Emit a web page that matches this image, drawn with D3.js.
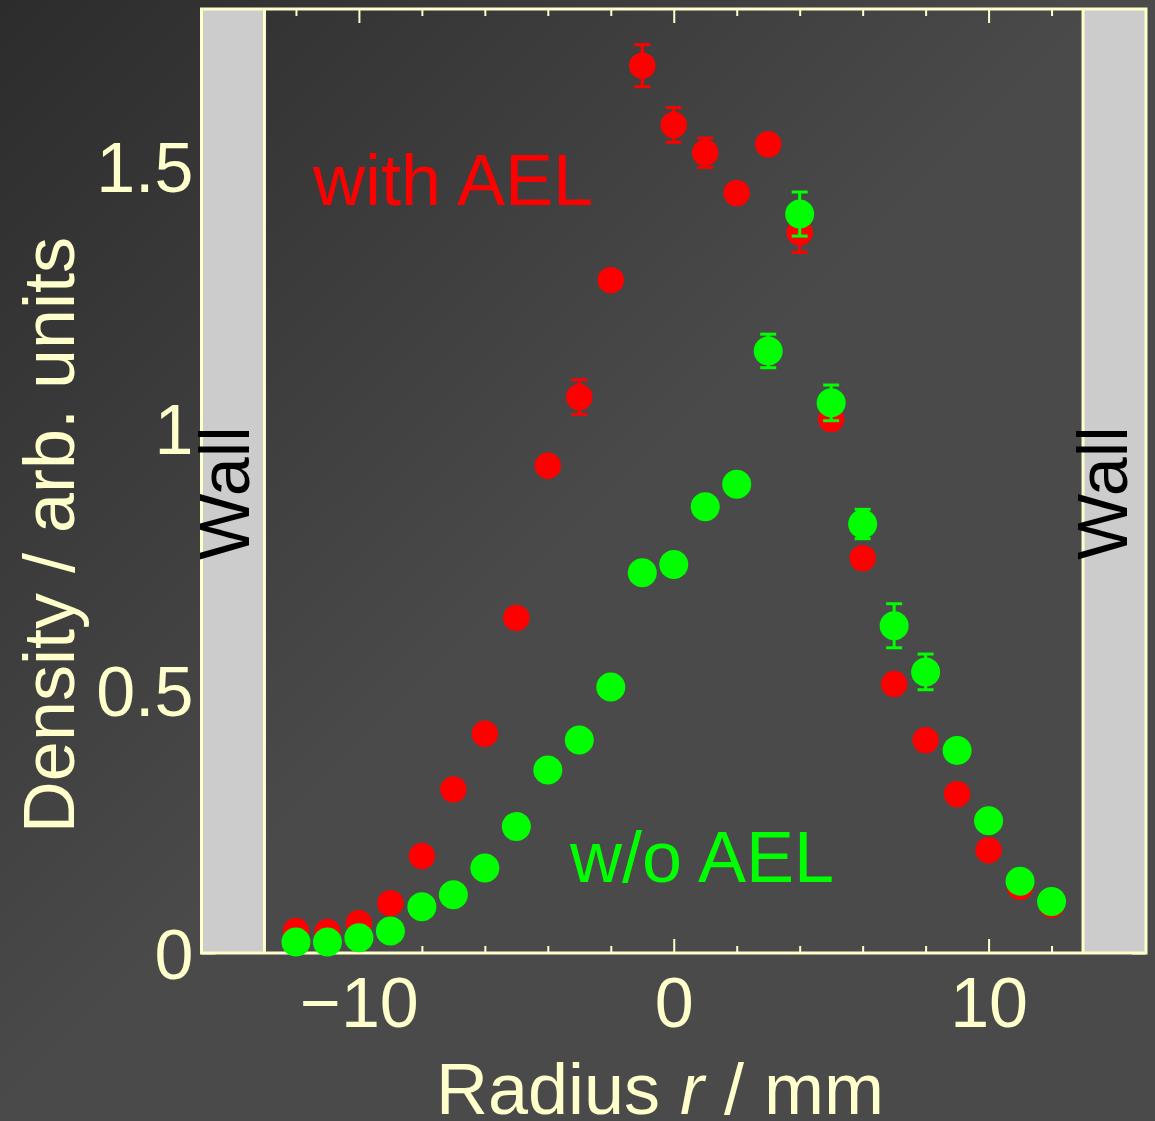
<!DOCTYPE html>
<html>
<head>
<meta charset="utf-8">
<script src="https://cdn.jsdelivr.net/npm/d3@7"></script>
<style>
  html, body { margin: 0; padding: 0; background: #4a4a4a; }
  svg { display: block; }
  text { font-family: "Liberation Sans", Arial, sans-serif; }
</style>
</head>
<body>
<div id="chart"></div>
<script>
// radial positions in mm
const radius = [-12, -11, -10, -9, -8, -7, -6, -5, -4, -3, -2, -1, 0, 1, 2, 3, 4, 5, 6, 7, 8, 9, 10, 11, 12];
// density, with AEL (red)
const withAEL = [0.042, 0.040, 0.057, 0.095, 0.185, 0.312, 0.418, 0.639, 0.929, 1.060, 1.283, 1.692, 1.579,
                 1.526, 1.449, 1.542, 1.374, 1.018, 0.753, 0.513, 0.406, 0.303, 0.196, 0.126, 0.092];
const withAELErr = [0, 0, 0, 0, 0, 0, 0, 0, 0, 0.033, 0, 0.040, 0.033,
                    0.028, 0, 0, 0.038, 0, 0, 0, 0, 0, 0, 0, 0];
// density, without AEL (green)
const withoutAEL = [0.021, 0.021, 0.029, 0.042, 0.088, 0.111, 0.162, 0.241, 0.349, 0.406, 0.507, 0.725, 0.741,
                    0.851, 0.894, 1.148, 1.409, 1.049, 0.818, 0.624, 0.536, 0.386, 0.252, 0.137, 0.098];
const withoutAELErr = [0, 0, 0, 0, 0, 0, 0, 0, 0, 0, 0, 0, 0,
                       0, 0, 0.032, 0.042, 0.034, 0.028, 0.042, 0.034, 0, 0, 0, 0];

const xMajor = [-10, 0, 10];
const xMinor = [-14, -12, -8, -6, -4, -2, 2, 4, 6, 8, 12, 14];
const yMajor = [0, 0.5, 1, 1.5];
const yMinor = [0.1, 0.2, 0.3, 0.4, 0.6, 0.7, 0.8, 0.9, 1.1, 1.2, 1.3, 1.4, 1.6, 1.7];
const wallPos = 13;

const W = 1155, H = 1121;
const cream = "#ffffcc";
const tickFont = 70;
const labelFont = 72;

const svg = d3.select("#chart").append("svg")
    .attr("width", W).attr("height", H);

// background, darker toward the top-left corner
const defs = svg.append("defs");
const grad = defs.append("linearGradient")
    .attr("id", "bg").attr("gradientUnits", "userSpaceOnUse")
    .attr("x1", 0).attr("y1", 0).attr("x2", 560).attr("y2", 560);
grad.append("stop").attr("offset", 0).attr("stop-color", "#2c2c2c");
grad.append("stop").attr("offset", 1).attr("stop-color", "#4a4a4a");
svg.append("rect").attr("width", W).attr("height", H).attr("fill", "url(#bg)");

const x = d3.scaleLinear().domain([-15, 15]).range([201.5, 1146]);
const y = d3.scaleLinear().domain([0, 1.8]).range([953, 9]);

// ticks (inward), all four sides
function tickAxis(axisFn, scale, vals, len, transform) {
  const g = svg.append("g").attr("transform", transform)
      .call(axisFn(scale).tickValues(vals).tickSize(-len).tickFormat(""));
  g.select(".domain").remove();
  g.selectAll(".tick line").attr("stroke", cream).attr("stroke-width", 2);
}
tickAxis(d3.axisBottom, x, xMajor, 14, `translate(0,${y(0)})`);
tickAxis(d3.axisBottom, x, xMinor, 7, `translate(0,${y(0)})`);
tickAxis(d3.axisTop, x, xMajor, 14, `translate(0,${y(1.8)})`);
tickAxis(d3.axisTop, x, xMinor, 7, `translate(0,${y(1.8)})`);
tickAxis(d3.axisLeft, y, yMajor, 14, `translate(${x(-15)},0)`);
tickAxis(d3.axisLeft, y, yMinor, 7, `translate(${x(-15)},0)`);
tickAxis(d3.axisRight, y, yMajor, 14, `translate(${x(15)},0)`);
tickAxis(d3.axisRight, y, yMinor, 7, `translate(${x(15)},0)`);

// walls
[[-15, -wallPos], [wallPos, 15]].forEach(([a, b]) => {
  svg.append("rect")
      .attr("x", x(a)).attr("y", y(1.8))
      .attr("width", x(b) - x(a)).attr("height", y(0) - y(1.8))
      .attr("fill", "#cccccc");
  const edge = a < 0 ? b : a;
  svg.append("line")
      .attr("x1", x(edge)).attr("x2", x(edge))
      .attr("y1", y(1.8)).attr("y2", y(0))
      .attr("stroke", cream).attr("stroke-width", 3);
});

// frame
svg.append("rect")
    .attr("x", x(-15)).attr("y", y(1.8))
    .attr("width", x(15) - x(-15)).attr("height", y(0) - y(1.8))
    .attr("fill", "none").attr("stroke", cream).attr("stroke-width", 3);

// tick labels
const xl = svg.append("g").attr("transform", `translate(0,${y(0)})`)
    .call(d3.axisBottom(x).tickValues(xMajor).tickSize(0).tickPadding(24).tickFormat(d3.format("d")));
xl.select(".domain").remove();
xl.selectAll("text").attr("font-size", tickFont).attr("fill", cream)
    .attr("font-family", "'Liberation Sans', Arial, sans-serif");

const yl = svg.append("g").attr("transform", `translate(${x(-15)},0)`)
    .call(d3.axisLeft(y).tickValues(yMajor).tickSize(0).tickPadding(8).tickFormat(d => String(d)));
yl.select(".domain").remove();
yl.selectAll("text").attr("font-size", tickFont).attr("fill", cream).attr("dy", "0.36em")
    .attr("font-family", "'Liberation Sans', Arial, sans-serif");

// data series: red first, green on top
function drawSeries(vals, errs, color, r) {
  const g = svg.append("g");
  const pts = radius.map((d, i) => ({r: d, v: vals[i], e: errs[i]}));
  const withErr = pts.filter(d => d.e > 0);
  g.selectAll("line.bar").data(withErr).join("line")
      .attr("x1", d => x(d.r)).attr("x2", d => x(d.r))
      .attr("y1", d => y(d.v - d.e)).attr("y2", d => y(d.v + d.e))
      .attr("stroke", color).attr("stroke-width", 3);
  [-1, 1].forEach(s => {
    g.selectAll(null).data(withErr).join("line")
        .attr("x1", d => x(d.r) - 8).attr("x2", d => x(d.r) + 8)
        .attr("y1", d => y(d.v + s * d.e)).attr("y2", d => y(d.v + s * d.e))
        .attr("stroke", color).attr("stroke-width", 3);
  });
  g.selectAll("circle").data(pts).join("circle")
      .attr("cx", d => x(d.r)).attr("cy", d => y(d.v))
      .attr("r", r).attr("fill", color);
}
drawSeries(withAEL, withAELErr, "#ff0000", 13.2);
drawSeries(withoutAEL, withoutAELErr, "#00ff00", 14.5);

// labels
svg.append("text").attr("x", 313).attr("y", 205)
    .attr("font-size", labelFont).attr("fill", "#ff0000").text("with AEL");
svg.append("text").attr("x", 570).attr("y", 882)
    .attr("font-size", labelFont).attr("fill", "#00ff00").text("w/o AEL");

[[249, 493], [1127, 493]].forEach(([px, py]) => {
  svg.append("text")
      .attr("transform", `translate(${px},${py}) rotate(-90)`)
      .attr("text-anchor", "middle")
      .attr("font-size", labelFont - 2).attr("fill", "#000").text("Wall");
});

// axis titles
const xt = svg.append("text").attr("x", 660).attr("y", 1114)
    .attr("text-anchor", "middle").attr("font-size", labelFont).attr("fill", cream);
xt.append("tspan").text("Radius ");
xt.append("tspan").attr("font-style", "italic").text("r");
xt.append("tspan").text(" / mm");

svg.append("text")
    .attr("transform", "translate(74,535) rotate(-90)")
    .attr("text-anchor", "middle").attr("font-size", labelFont).attr("fill", cream)
    .text("Density / arb. units");
</script>
</body>
</html>
